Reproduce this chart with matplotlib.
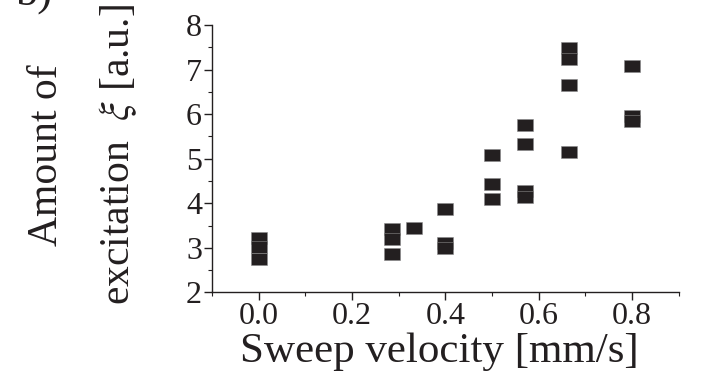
import numpy as np
import matplotlib.pyplot as plt

plt.rcParams['font.family'] = ['Liberation Serif', 'DejaVu Serif']
plt.rcParams['mathtext.fontset'] = 'stix'

# measured points (sweep velocity in mm/s, excitation in a.u.)
velocity = [0.0, 0.0, 0.0,
            0.285, 0.285, 0.285,
            0.333,
            0.4, 0.4, 0.4,
            0.5, 0.5, 0.5,
            0.57, 0.57, 0.57, 0.57,
            0.665, 0.665, 0.665, 0.665,
            0.8, 0.8, 0.8]
excitation = [3.21, 3.03, 2.76,
              3.42, 3.20, 2.87,
              3.45,
              3.88, 3.11, 3.00,
              5.09, 4.44, 4.10,
              5.76, 5.34, 4.27, 4.15,
              7.48, 7.24, 6.65, 5.14,
              7.09, 5.96, 5.85]

xticks = [0.0, 0.2, 0.4, 0.6, 0.8]
yticks = [2, 3, 4, 5, 6, 7, 8]

fig = plt.figure(figsize=(7.23, 3.73), dpi=100)
ax = fig.add_axes([0.293, 0.216, 0.646, 0.717])

# squares in the source are stretched sideways (about 17 x 12 px)
rect = [(-1.4, -1), (1.4, -1), (1.4, 1), (-1.4, 1), (-1.4, -1)]
ax.plot(velocity, excitation, linestyle='none', marker=rect, markersize=12.2,
        color='#231f20', markeredgecolor='#8a8a8a', markeredgewidth=0.4)

ax.set_xlim(-0.1, 0.9)
ax.set_ylim(2, 8)
ax.set_xticks(xticks)
ax.set_xticklabels(['%.1f' % v for v in xticks])
ax.set_yticks(yticks)
ax.set_xticks(np.arange(-0.1, 0.91, 0.1), minor=True)
ax.set_yticks(np.arange(2, 8.01, 0.5), minor=True)

for s in ['top', 'right']:
    ax.spines[s].set_visible(False)
for s in ['left', 'bottom']:
    ax.spines[s].set_linewidth(1.0)
    ax.spines[s].set_color('#231f20')

ax.tick_params(which='major', direction='out', length=6, width=1.0,
               labelsize=23, colors='#231f20', pad=1)
ax.tick_params(which='minor', direction='out', length=3, width=0.8,
               colors='#231f20')

fig.text(0.608, 0.005, 'Sweep velocity [mm/s]', fontsize=31, color='#231f20',
         ha='center', va='bottom')

fig.text(0.064, 0.585, 'Amount of', rotation=90, fontsize=30,
         ha='center', va='center', color='#231f20')
fig.text(0.163, 0.585, r'excitation  $\xi$ [a.u.]', rotation=90, fontsize=30,
         ha='center', va='center', color='#231f20')

# panel label, cut off at the top edge as in the source
fig.text(0.022, 0.963, 'b)', fontsize=32, ha='left', va='bottom', color='#231f20')

fig.savefig('out.png', dpi=100)
